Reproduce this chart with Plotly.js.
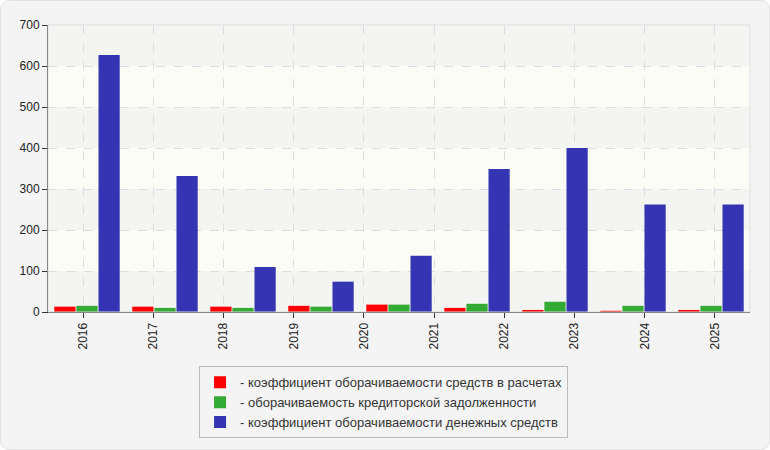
<!DOCTYPE html>
<html>
<head>
<meta charset="utf-8">
<script src="https://cdn.plot.ly/plotly-3.0.1.min.js"></script>
<style>
    html, body { margin: 0; padding: 0; background: #ffffff; }
    #chart {
        width: 768px;
        height: 448px;
        background: #f4f4f4;
        border: 1px solid #e2e2e2;
        border-radius: 9px;
    }
</style>
</head>
<body>
<div id="chart"></div>
<script>
/* Показатели оборачиваемости по периодам */

const periods = [0, 1, 2, 3, 4, 5, 6, 7, 8];
const yearLabels = ["2016", "2017", "2018", "2019", "2020", "2021", "2022", "2023", "2024", "2025"];

const raschety = [13, 13, 13, 15, 18, 10, 5, 3, 5];
const kreditory = [15, 10, 10, 13, 18, 20, 25, 15, 15];
const dengi = [627, 332, 110, 74, 137, 349, 400, 262, 262];

const seriesNames = [
    "- коэффициент оборачиваемости средств в расчетах",
    "- оборачиваемость кредиторской задолженности",
    "- коэффициент оборачиваемости денежных средств",
];

(function () {
    const n = periods.length;
    // подписи лет идут равными долями по всей оси, а не по центрам групп
    const tickPos = yearLabels.map((_, k) => (k + 0.5) * n / yearLabels.length - 0.5);

    const mk = (y, name, color) => ({
        type: "bar",
        x: periods,
        y: y,
        name: name,
        marker: { color: color, line: { width: 0 } },
        hoverinfo: "y",
    });

    const traces = [
        mk(raschety, seriesNames[0], "#ff0000"),
        mk(kreditory, seriesNames[1], "#33aa33"),
        mk(dengi, seriesNames[2], "#3535b3"),
    ];

    // чередующиеся полосы фона
    const bands = [];
    for (let v = 0; v < 700; v += 100) {
        bands.push({
            type: "rect", xref: "paper", yref: "y", layer: "below",
            x0: 0, x1: 1, y0: v, y1: v + 100,
            fillcolor: (v / 100) % 2 === 0 ? "#f4f4f2" : "#fcfcf6",
            line: { width: 0 },
        });
    }
    bands.push({
        type: "rect", xref: "paper", yref: "paper", layer: "above",
        x0: 0, x1: 1, y0: 0, y1: 1,
        line: { color: "#dddddd", width: 1 },
    });

    const layout = {
        width: 768,
        height: 448,
        paper_bgcolor: "rgba(0,0,0,0)",
        plot_bgcolor: "#fafaf6",
        font: { family: "Liberation Sans, Arial, sans-serif", size: 12, color: "#222222" },
        margin: { l: 47, r: 19, t: 24, b: 136 },
        barmode: "group",
        bargap: 0.15,
        bargroupgap: 0.04,
        showlegend: true,
        xaxis: {
            range: [-0.5, n - 0.5],
            tickvals: tickPos,
            ticktext: yearLabels,
            tickangle: -90,
            ticks: "outside",
            ticklen: 5,
            tickcolor: "#333333",
            showline: true,
            linecolor: "#333333",
            linewidth: 1,
            showgrid: true,
            gridcolor: "#dddddd",
            griddash: "dash",
            zeroline: false,
            fixedrange: true,
        },
        yaxis: {
            range: [0, 700],
            dtick: 100,
            ticks: "outside",
            ticklen: 5,
            tickcolor: "#333333",
            showline: true,
            linecolor: "#333333",
            linewidth: 1,
            showgrid: true,
            gridcolor: "#dddddd",
            griddash: "dash",
            zeroline: false,
            fixedrange: true,
        },
        legend: {
            x: 0.478,
            xanchor: "center",
            y: -0.185,
            yanchor: "top",
            bgcolor: "#f4f4f4",
            bordercolor: "#bbbbbb",
            borderwidth: 1,
            font: { size: 13, color: "#333333" },
            tracegroupgap: 0,
            itemwidth: 30,
        },
        shapes: bands,
    };

    Plotly.newPlot("chart", traces, layout, { displayModeBar: false, staticPlot: true });
})();
</script>
</body>
</html>
